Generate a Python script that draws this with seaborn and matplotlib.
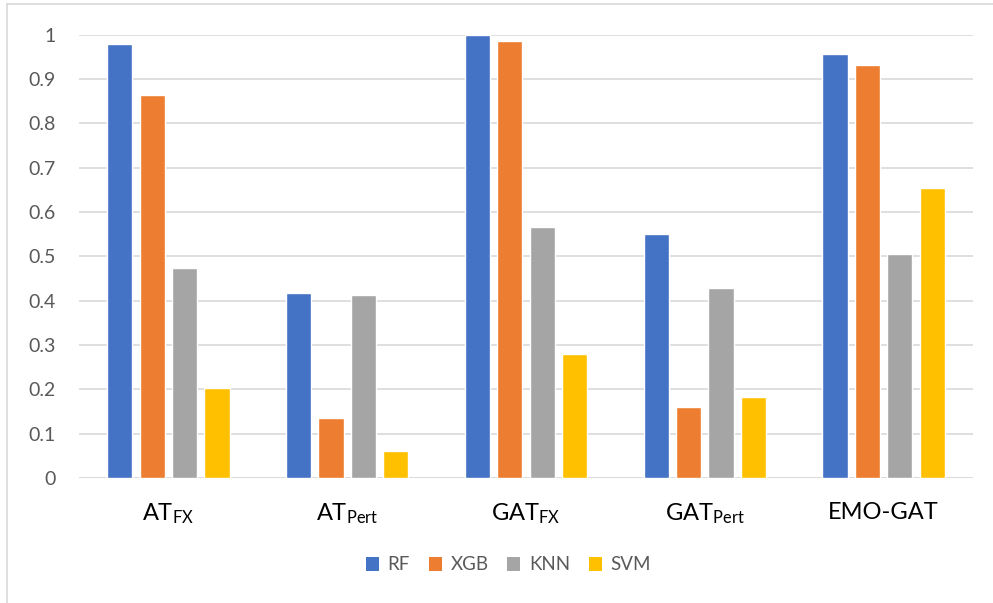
import matplotlib
matplotlib.use("Agg")
import matplotlib.pyplot as plt
import seaborn as sns
import pandas as pd
from matplotlib.patches import Patch
from matplotlib.lines import Line2D

# Scores per method and classifier
methods = [r"AT$_{\mathrm{FX}}$", r"AT$_{\mathrm{Pert}}$", r"GAT$_{\mathrm{FX}}$",
           r"GAT$_{\mathrm{Pert}}$", "EMO-GAT"]
classifiers = ["RF", "XGB", "KNN", "SVM"]
rf = [0.978, 0.418, 1.000, 0.551, 0.956]
xgb = [0.864, 0.135, 0.986, 0.159, 0.932]
knn = [0.474, 0.413, 0.567, 0.429, 0.505]
svm = [0.202, 0.060, 0.280, 0.182, 0.655]
yticks = [0, 0.1, 0.2, 0.3, 0.4, 0.5, 0.6, 0.7, 0.8, 0.9, 1]
ytick_labels = ["0", "0.1", "0.2", "0.3", "0.4", "0.5", "0.6", "0.7", "0.8", "0.9", "1"]

colors = ["#4472C4", "#ED7D31", "#A5A5A5", "#FFC000"]

df = pd.DataFrame({
    "method": methods * 4,
    "clf": [c for c in classifiers for _ in methods],
    "score": rf + xgb + knn + svm,
})

sns.set_theme(style="white")
plt.rcParams["font.family"] = ["Lato", "DejaVu Sans"]
plt.rcParams["mathtext.fontset"] = "custom"
plt.rcParams["mathtext.rm"] = "Lato"
plt.rcParams["mathtext.it"] = "Lato"

fig = plt.figure(figsize=(9.93, 6.03), dpi=100)
ax = fig.add_axes([79 / 993, 1 - 478 / 603, (973 - 79) / 993, (478 - 34.5) / 603])

sns.barplot(data=df, x="method", y="score", hue="clf", order=methods,
            hue_order=classifiers, palette=colors, width=0.725, gap=0.22,
            saturation=1, legend=False, ax=ax, zorder=3)

ax.set_xlim(-0.5, len(methods) - 0.5)
ax.set_ylim(0, 1)
ax.set_yticks(yticks)
ax.set_yticklabels(ytick_labels)
ax.yaxis.grid(True, color="#D9D9D9", linewidth=1.2, zorder=0)
ax.set_axisbelow(True)
for s in ax.spines.values():
    s.set_visible(False)
ax.set_xlabel("")
ax.set_ylabel("")
ax.tick_params(axis="y", length=0, pad=17, labelsize=14, labelcolor="#595959")
ax.tick_params(axis="x", length=0, pad=17, labelsize=17, labelcolor="#000000")
# baseline
ax.axhline(0, color="#D9D9D9", linewidth=1.2, zorder=2)

handles = [Patch(facecolor=c, edgecolor="none") for c in colors]
fig.legend(handles, classifiers, loc="center", bbox_to_anchor=(0.512, 1 - 565 / 603),
           ncol=4, frameon=False, fontsize=13.5, labelcolor="#595959",
           handlelength=0.7, handleheight=0.7, handletextpad=0.45, columnspacing=1.0)

# chart frame
fig.add_artist(Line2D([7 / 993, 7 / 993], [0, 1 - 4 / 603], color="#D9D9D9",
                      linewidth=1.2, transform=fig.transFigure))
fig.add_artist(Line2D([7 / 993, 1], [1 - 4 / 603, 1 - 4 / 603], color="#D9D9D9",
                      linewidth=1.2, transform=fig.transFigure))

fig.savefig("out.png", dpi=100)
